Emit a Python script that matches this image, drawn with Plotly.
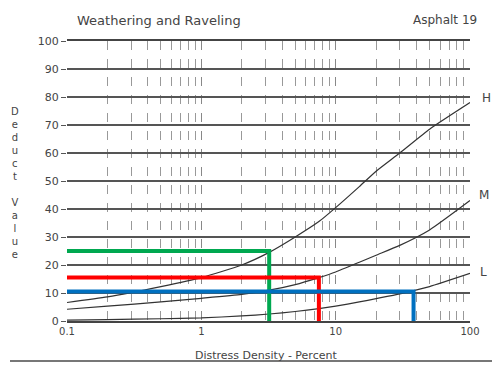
import plotly.graph_objects as go

# ---- data ----
density = [0.1, 0.2, 0.5, 1, 2, 3.2, 5, 7.5, 10, 15, 20, 30, 50, 100]
high = [6.6, 8.6, 12.3, 15.5, 20, 24.5, 30, 35.5, 40.5, 48, 53.5, 60, 68.5, 78]
medium = [4.2, 5.3, 6.8, 8.1, 9.5, 11, 13, 15.5, 17.5, 21, 23.5, 27, 32.5, 43]
low = [0.3, 0.5, 0.8, 1.1, 1.8, 2.5, 3.4, 4.4, 5.3, 6.8, 8, 9.7, 12.3, 17]

green_x = [0.1, 3.2, 3.2]
green_y = [25, 25, 0]
red_x = [0.1, 7.5, 7.5]
red_y = [15.5, 15.5, 0]
blue_x = [0.1, 38, 38]
blue_y = [10.5, 10.5, 0]

x_ticks = [0.1, 1, 10, 100]
x_tick_labels = ["0.1", "1", "10", "100"]
y_ticks = list(range(0, 101, 10))

W, H = 492, 370
ML, MR, MT, MB = 67, 22, 41, 49
PW, PH = W - ML - MR, H - MT - MB

fig = go.Figure()
for ys in (high, medium, low):
    fig.add_trace(go.Scatter(x=density, y=ys, mode="lines", line=dict(color="#333", width=1.2, shape="spline", smoothing=0.5),
                             showlegend=False, hoverinfo="skip"))
for xs, ys, c in ((green_x, green_y, "#00a850"), (red_x, red_y, "#ff0000"), (blue_x, blue_y, "#0070c0")):
    fig.add_trace(go.Scatter(x=xs, y=ys, mode="lines", line=dict(color=c, width=4),
                             showlegend=False, hoverinfo="skip"))

font = "DejaVu Sans, Arial, sans-serif"
fig.update_layout(
    width=W, height=H,
    margin=dict(l=ML, r=MR, t=MT, b=MB, autoexpand=False),
    paper_bgcolor="white", plot_bgcolor="white",
    font=dict(family=font, color="#444", size=10),
    showlegend=False,
)
fig.update_xaxes(type="log", range=[-1, 2], tickvals=x_ticks, ticktext=x_tick_labels, automargin=False,
                 showgrid=True, gridcolor="#888", griddash="dash", gridwidth=1,
                 minor=dict(dtick="D1", showgrid=True, gridcolor="#999", griddash="dash", gridwidth=1),
                 showline=True, mirror=True, linecolor="#444", linewidth=1.5,
                 zeroline=False, ticks="", tickfont=dict(size=10, color="#444"))
fig.update_yaxes(range=[0, 100], tickvals=y_ticks, showgrid=True, gridcolor="#555", gridwidth=1.5,
                 automargin=False, zeroline=False, showline=False, ticks="outside", ticklen=5, tickcolor="#555",
                 tickfont=dict(size=11, color="#444"))


def px_to_paper(px, py):
    return (px - ML) / PW, 1 - (py - MT) / PH


ann = [
    ("Weathering and Raveling", 75, 20, "left", 13),
    ("Asphalt 19", 479, 20, "right", 12),
    ("Distress Density - Percent", 266, 355, "center", 11),
    ("<br>".join(list("Deduct Value")), 15, 183, "center", 10),
    ("H", 486, 98, "center", 12),
    ("M", 484, 195, "center", 12),
    ("L", 483, 272, "center", 12),
]
for text, x, y, xa, size in ann:
    ax, ay = px_to_paper(x, y)
    fig.add_annotation(text=text, xref="paper", yref="paper", x=ax, y=ay, showarrow=False,
                       xanchor=xa, yanchor="middle", font=dict(size=size))

x0, yl = px_to_paper(10, 361)
x1, _ = px_to_paper(492, 361)
fig.add_shape(type="line", xref="paper", yref="paper", x0=x0, x1=x1, y0=yl, y1=yl,
              line=dict(color="#777", width=2))
fig.write_html("out.html", config={"displayModeBar": False},
               post_script="document.body.style.margin='0';document.body.style.overflow='hidden';")
